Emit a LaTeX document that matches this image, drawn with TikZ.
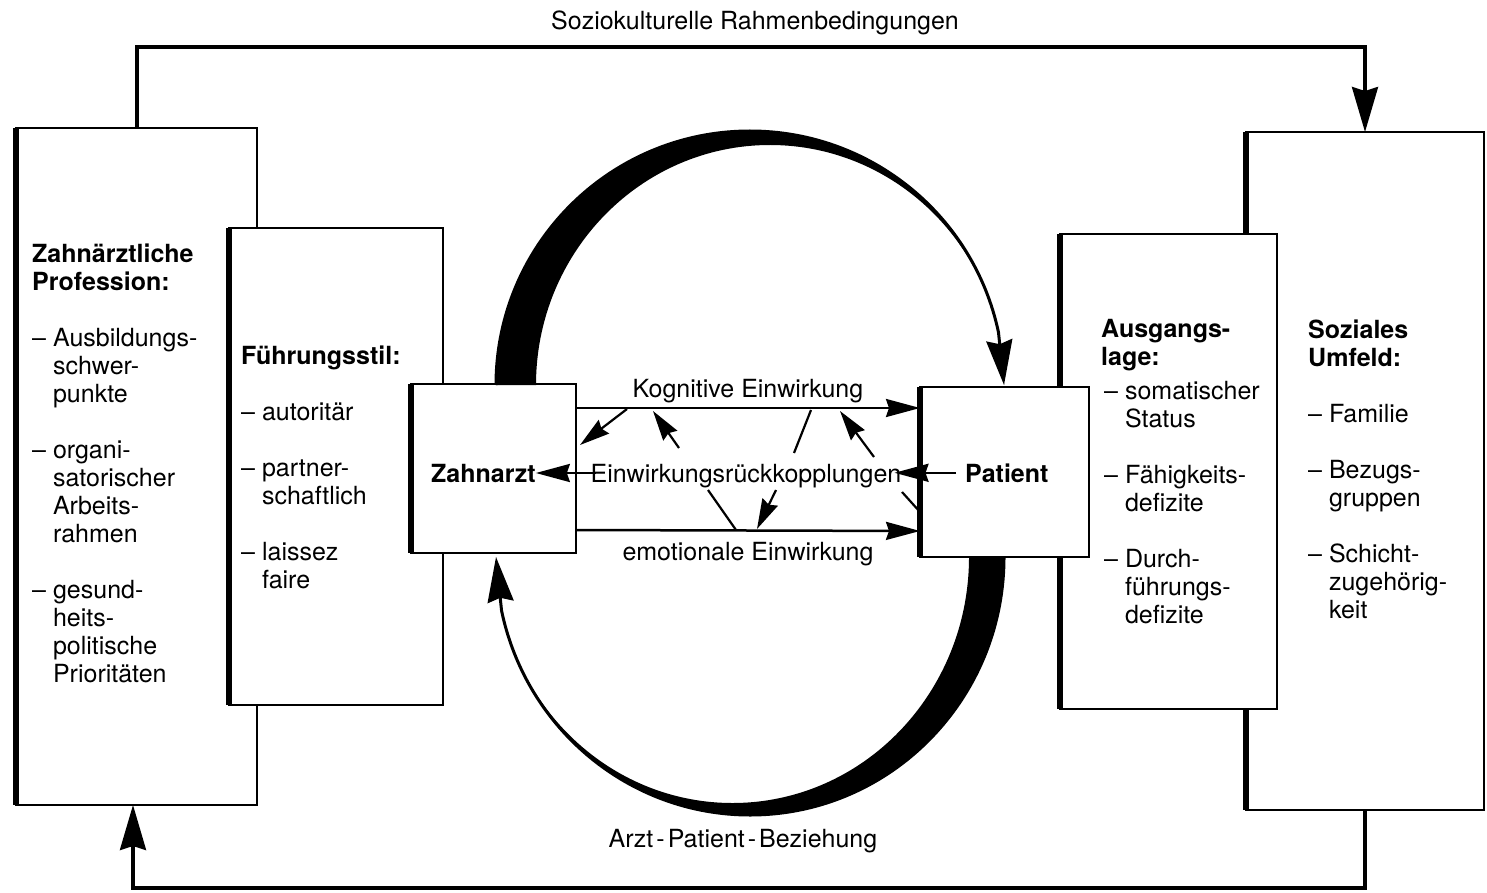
\documentclass[tikz,border=0pt]{standalone}
\usepackage{fontspec}
\setmainfont{TeX Gyre Heros}
\usetikzlibrary{arrows.meta,calc}
\newcommand\dashitem{\textendash\ }
\newcommand\dashcont{\phantom{\textendash\ }}
\begin{document}
\begin{tikzpicture}[x=1pt,y=-1pt,
  every node/.style={font=\fontsize{25}{28}\selectfont},
  box/.style={draw, line width=2.5pt, fill=white, rectangle, inner sep=0pt, outer sep=0pt, anchor=north west},
  thickedge/.style={line width=6pt},
  txt/.style={anchor=base west, inner sep=0pt},
  boldtxt/.style={anchor=base west, inner sep=0pt, font=\fontsize{25}{28}\selectfont\bfseries},
  lbl/.style={anchor=base, inner sep=0pt},
  conn/.style={line width=3.2pt, -{Stealth[length=45pt,width=26pt,inset=4pt]}},
  arcline/.style={line width=3pt, -{Stealth[length=45pt,width=26pt,inset=4pt]}},
  midarr/.style={line width=2.5pt, -{Stealth[length=34pt,width=18pt,inset=3pt]}},
  diag/.style={line width=2.2pt, -{Stealth[length=30pt,width=17pt,inset=3pt]}},
  plain/.style={line width=2.2pt}
]
\useasboundingbox (0,0) rectangle (1487,893);
\fill[white] (0,0) rectangle (1487,893);

% left boxes
\node[box, minimum width=241pt, minimum height=677pt] (prof) at (16,128) {};
\draw[thickedge] (prof.north west) -- (prof.south west);
\node[box, minimum width=214pt, minimum height=477pt] (fuehr) at (229,228) {};
\draw[thickedge] (fuehr.north west) -- (fuehr.south west);
\node[box, minimum width=165pt, minimum height=169pt] (zahn) at (411,384) {};
\draw[thickedge] (zahn.north west) -- (zahn.south west);

% right boxes
\node[box, minimum width=238pt, minimum height=678pt] (umf) at (1246,132) {};
\draw[thickedge] (umf.north west) -- (umf.south west);
\node[box, minimum width=217pt, minimum height=475pt] (ausg) at (1060,234) {};
\draw[thickedge] (ausg.north west) -- (ausg.south west);
\node[box, minimum width=169pt, minimum height=170pt] (pat) at (920,387) {};
\draw[thickedge] (pat.north west) -- (pat.south west);

% box texts
\node[txt] (proftxt) at (32,262) {\begin{tabular}[t]{@{}l@{}}
\textbf{Zahnärztliche}\\ \textbf{Profession:}\\[28pt]
\dashitem Ausbildungs-\\ \dashcont schwer-\\ \dashcont punkte\\[28pt]
\dashitem organi-\\ \dashcont satorischer\\ \dashcont Arbeits-\\ \dashcont rahmen\\[28pt]
\dashitem gesund-\\ \dashcont heits-\\ \dashcont politische\\ \dashcont Prioritäten
\end{tabular}};
\node[txt] (fuehrtxt) at (241,364) {\begin{tabular}[t]{@{}l@{}}
\textbf{Führungsstil:}\\[28pt]
\dashitem autoritär\\[28pt]
\dashitem partner-\\ \dashcont schaftlich\\[28pt]
\dashitem laissez\\ \dashcont faire
\end{tabular}};
\node[txt] (ausgtxt) at (1101,337) {\begin{tabular}[t]{@{}l@{}}
\textbf{Ausgangs-}\\ \textbf{lage:}\\[6pt]
\hspace*{3pt}\dashitem somatischer\\ \hspace*{3pt}\dashcont Status\\[28pt]
\hspace*{3pt}\dashitem Fähigkeits-\\ \hspace*{3pt}\dashcont defizite\\[28pt]
\hspace*{3pt}\dashitem Durch-\\ \hspace*{3pt}\dashcont führungs-\\ \hspace*{3pt}\dashcont defizite
\end{tabular}};
\node[txt] (umftxt) at (1308,338) {\begin{tabular}[t]{@{}l@{}}
\textbf{Soziales}\\ \textbf{Umfeld:}\\[28pt]
\dashitem Familie\\[28pt]
\dashitem Bezugs-\\ \dashcont gruppen\\[28pt]
\dashitem Schicht-\\ \dashcont zugehörig-\\ \dashcont keit
\end{tabular}};

% outer connectors
\coordinate (c1) at (137,47);
\coordinate (c2) at (1365,47);
\coordinate (c3) at (1365,888);
\coordinate (c4) at (133,888);
\draw[conn] (c1 |- prof.north) -- (c1) -- (c2) -- (c2 |- umf.north);
\draw[conn] (c3 |- umf.south) -- (c3) -- (c4) -- (c4 |- prof.south);

% arcs
\coordinate (ta) at (496,385);
\coordinate (tb) at (998.4,332.2);
\coordinate (tt) at (1004,385);
\fill (ta) arc[start angle=180,end angle=360,x radius=254,y radius=254]
  arc[start angle=0,end angle=-180,x radius=234,y radius=240] -- cycle;
\draw[arcline] (ta) arc[start angle=180,end angle=348,x radius=254,y radius=254] -- (tt);

\coordinate (ba) at (1004,557);
\coordinate (bb) at (501.6,610.6);
\coordinate (bt) at (496,557);
\fill (ba) arc[start angle=0,end angle=180,x radius=254,y radius=258]
  arc[start angle=180,end angle=0,x radius=236.5,y radius=246] -- cycle;
\draw[arcline] (ba) arc[start angle=0,end angle=168,x radius=254,y radius=258] -- (bt);

% central labels
\node[lbl] (title) at (755,30) {Soziokulturelle Rahmenbedingungen};
\node[lbl] (apb) at (743,847) {Arzt\kern3pt-\kern3pt Patient\kern3pt-\kern3pt Beziehung};
\node[lbl] (kog) at (748,397) {Kognitive Einwirkung};
\node[lbl] (emo) at (748,560) {emotionale Einwirkung};
\node[lbl] (einw) at (746,482) {Einwirkungsrückkopplungen};
\node[boldtxt] (zlbl) at (431,482) {Zahnarzt};
\node[boldtxt] (plbl) at (965,482) {Patient};

% central arrows
\draw[midarr] ($(zahn.north east)+(0,24)$) -- ($(pat.north west)+(0,21)$);
\draw[midarr] ($(zahn.south east)+(0,-23)$) -- ($(pat.south west)+(0,-26)$);
\draw[midarr, shorten <=-5pt] (einw.west |- zlbl.east) -- (zlbl.east);
\draw[midarr, shorten <=9pt, shorten >=-7pt] (plbl.west) -- (einw.east |- plbl.west);

\coordinate (d1a) at (627,409); \coordinate (d1b) at (580,445);
\coordinate (d2a) at (679,448); \coordinate (d2b) at (653,411);
\coordinate (d3a) at (794,453); \coordinate (d3b) at (811,410);
\coordinate (d4a) at (874,457); \coordinate (d4b) at (840,411);
\coordinate (d5a) at (708,490); \coordinate (d5b) at (736,530);
\coordinate (d6a) at (776,490); \coordinate (d6b) at (757,529);
\coordinate (d7a) at (902,492); \coordinate (d7b) at (920,512);
\draw[diag] (d1a) -- (d1b);
\draw[diag] (d2a) -- (d2b);
\draw[plain] (d3a) -- (d3b);
\draw[diag] (d4a) -- (d4b);
\draw[plain] (d5a) -- (d5b);
\draw[diag] (d6a) -- (d6b);
\draw[plain] (d7a) -- (d7b);
\end{tikzpicture}
\end{document}
